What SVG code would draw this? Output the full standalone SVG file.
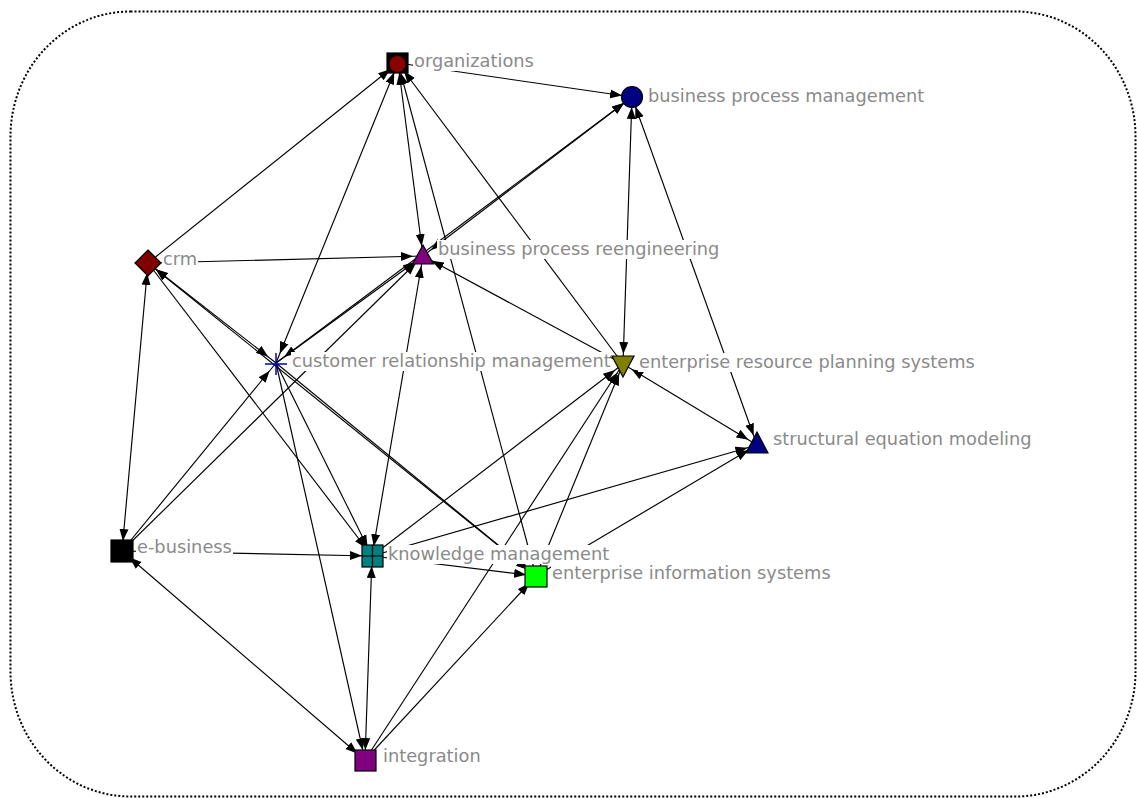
<svg xmlns="http://www.w3.org/2000/svg" width="1137" height="798" viewBox="0 0 1137 798">
<style>
.e{stroke:#000;stroke-width:1.15;fill:none}
.a{marker-end:url(#ah)}
.s{marker-start:url(#ah)}
.lbl{font-family:"DejaVu Sans",Verdana,sans-serif;font-size:17.8px;fill:#8a8a8a}
.bg{fill:#fff}
.nd{stroke:#000;stroke-width:1.2}
</style>
<defs>
<marker id="ah" markerUnits="userSpaceOnUse" markerWidth="26" markerHeight="10" refX="22" refY="4.5" orient="auto-start-reverse" viewBox="0 0 26 9">
<path d="M0,0 L12,4.5 L0,9 Z" fill="#000"/>
</marker>
</defs>
<rect x="10.5" y="11.5" width="1125" height="785" rx="120" ry="125" fill="#fff" stroke="#000" stroke-width="2" stroke-dasharray="2 2"/>
<g id="connectors">
<line class="e a" x1="398" y1="63" x2="632" y2="97"/>
<line class="e a" x1="148" y1="263" x2="398" y2="63"/>
<line class="e a s" x1="398" y1="63" x2="276" y2="363"/>
<line class="e a s" x1="398" y1="63" x2="423" y2="256"/>
<line class="e a" x1="623" y1="364" x2="398" y2="63"/>
<line class="e a" x1="536" y1="576" x2="398" y2="63"/>
<line class="e a" x1="148" y1="263" x2="423" y2="256"/>
<line class="e a s" x1="423" y1="256" x2="632" y2="97"/>
<line class="e a" x1="276" y1="363" x2="632" y2="97"/>
<line class="e a s" x1="632" y1="97" x2="623" y2="364"/>
<line class="e a s" x1="632" y1="97" x2="757" y2="445"/>
<line class="e a" x1="623" y1="364" x2="423" y2="256"/>
<line class="e a s" x1="623" y1="364" x2="757" y2="445"/>
<line class="e a s" x1="148" y1="263" x2="122" y2="551"/>
<line class="e a s" x1="148" y1="263" x2="276" y2="363"/>
<line class="e a s" x1="148" y1="263" x2="536" y2="576"/>
<line class="e a" x1="148" y1="263" x2="372" y2="556"/>
<line class="e a s" x1="276" y1="363" x2="423" y2="256"/>
<line class="e a" x1="276" y1="363" x2="372" y2="556"/>
<line class="e a" x1="276" y1="363" x2="365" y2="760"/>
<line class="e a s" x1="423" y1="256" x2="372" y2="556"/>
<line class="e a s" x1="372" y1="556" x2="365" y2="760"/>
<line class="e a" x1="122" y1="551" x2="372" y2="556"/>
<line class="e a s" x1="122" y1="551" x2="365" y2="760"/>
<line class="e a" x1="372" y1="556" x2="536" y2="576"/>
<line class="e a" x1="372" y1="556" x2="623" y2="364"/>
<line class="e a" x1="372" y1="556" x2="757" y2="445"/>
<line class="e a" x1="536" y1="576" x2="623" y2="364"/>
<line class="e a" x1="536" y1="576" x2="757" y2="445"/>
<line class="e a" x1="365" y1="760" x2="536" y2="576"/>
<line class="e a" x1="365" y1="760" x2="623" y2="364"/>
<line class="e a" x1="122" y1="551" x2="276" y2="363"/>
<line class="e a" x1="122" y1="551" x2="423" y2="256"/>
<line class="e a" x1="276" y1="363" x2="536" y2="576"/>
</g>
<g id="n-organizations">
<rect class="bg" x="413" y="52" width="120" height="19"/>
<rect class="nd" x="387" y="53" width="21" height="20" fill="#000"/>
<circle cx="397.5" cy="64" r="8" fill="#8b0000"/>
<text class="lbl" x="414" y="67">organizations</text>
</g>
<g id="n-bpm">
<rect class="bg" x="647" y="87" width="282" height="19"/>
<circle class="nd" cx="632" cy="97" r="10.5" fill="#000080"/>
<text class="lbl" x="648" y="102">business process management</text>
</g>
<g id="n-crm">
<rect class="bg" x="162" y="254" width="36" height="15"/>
<polygon class="nd" points="148,250 161,263 148,276 135,263" fill="#800000"/>
<text class="lbl" x="163" y="265">crm</text>
</g>
<g id="n-bpr">
<rect class="bg" x="437" y="240" width="284" height="19"/>
<polygon class="nd" points="423,245 433.5,264 412.5,264" fill="#800080"/>
<text class="lbl" x="438" y="255">business process reengineering</text>
</g>
<g id="n-crmgmt">
<rect class="bg" x="291" y="352" width="319" height="19"/>
<path d="M265,364 H287 M276,353 V375" stroke="#0000cc" stroke-width="1.5"/>
<text class="lbl" x="292" y="367">customer relationship management</text>
</g>
<g id="n-erp">
<rect class="bg" x="638" y="353" width="338" height="19"/>
<polygon class="nd" points="612,356 634,356 623,377" fill="#808000"/>
<text class="lbl" x="639" y="368">enterprise resource planning systems</text>
</g>
<g id="n-sem">
<rect class="bg" x="772" y="430" width="258" height="19"/>
<polygon class="nd" points="757,432 768,453 746,453" fill="#000080"/>
<text class="lbl" x="773" y="445">structural equation modeling</text>
</g>
<g id="n-ebusiness">
<rect class="bg" x="136" y="538" width="97" height="18"/>
<rect class="nd" x="111" y="540" width="22" height="22" fill="#000"/>
<text class="lbl" x="137" y="553">e-business</text>
</g>
<g id="n-km">
<rect class="bg" x="387" y="545" width="223" height="19"/>
<rect class="nd" x="362" y="545" width="21" height="22" fill="#008080"/>
<path d="M372.5,545 V567 M362,556 H383" stroke="#000" stroke-width="1.2"/>
<text class="lbl" x="388" y="560">knowledge management</text>
</g>
<g id="n-eis">
<rect class="bg" x="551" y="564" width="282" height="19"/>
<rect class="nd" x="525" y="566" width="22" height="21" fill="#00ff00"/>
<text class="lbl" x="552" y="579">enterprise information systems</text>
</g>
<g id="n-integration">
<rect class="bg" x="382" y="747" width="96" height="19"/>
<rect class="nd" x="355" y="750" width="21" height="21" fill="#800080"/>
<text class="lbl" x="383" y="762">integration</text>
</g>
</svg>
